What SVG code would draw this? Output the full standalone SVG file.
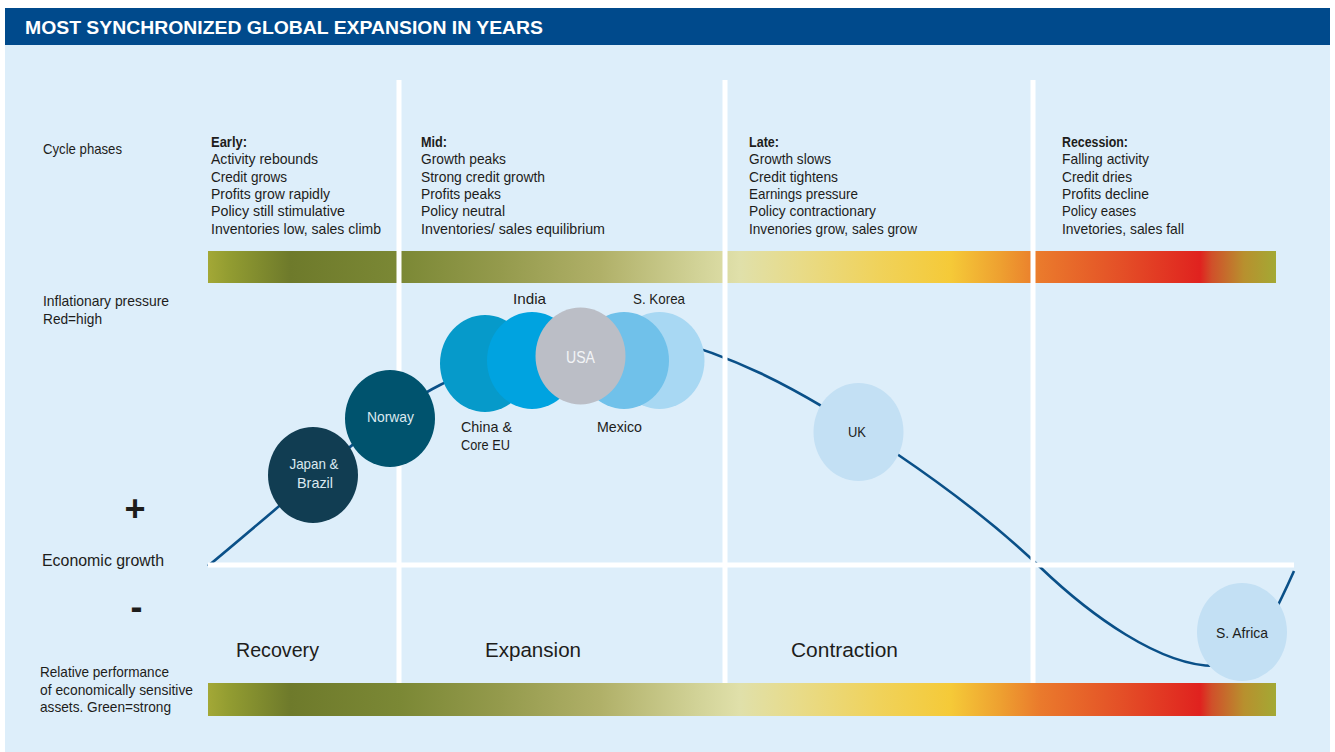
<svg xmlns="http://www.w3.org/2000/svg" width="1335" height="752" viewBox="0 0 1335 752">
  <style>
    .t { font-family: "Liberation Sans", Arial, sans-serif; fill: #1d1d1b; }
    .s { font-size: 14.5px; }
    .b { font-weight: bold; }
    .big { font-size: 20.5px; }
    .eg { font-size: 16px; }
    .lab { font-size: 15px; text-anchor: middle; }
    .lt { fill: #dbe9f0; }
    .usa { fill: #f2f4f6; font-size: 16px; }
    .title { font-family: "Liberation Sans", Arial, sans-serif; font-weight: bold; font-size: 18.5px; fill: #ffffff; }
    .grid { fill: #ffffff; }
    .curve { fill: none; stroke: #0a5088; stroke-width: 2.6; }
  </style>
  <defs>
    <linearGradient id="cycleGrad" gradientUnits="userSpaceOnUse" x1="208" y1="0" x2="1276" y2="0">
      <stop offset="0" stop-color="#a3a836"/>
      <stop offset="0.02" stop-color="#929c31"/>
      <stop offset="0.077" stop-color="#6e7a2b"/>
      <stop offset="0.18" stop-color="#7b8835"/>
      <stop offset="0.273" stop-color="#949a4c"/>
      <stop offset="0.367" stop-color="#b0b068"/>
      <stop offset="0.46" stop-color="#d2d398"/>
      <stop offset="0.498" stop-color="#e0e0aa"/>
      <stop offset="0.554" stop-color="#e8db88"/>
      <stop offset="0.629" stop-color="#f0d25a"/>
      <stop offset="0.695" stop-color="#f5ca38"/>
      <stop offset="0.742" stop-color="#eea030"/>
      <stop offset="0.779" stop-color="#ea7a2c"/>
      <stop offset="0.854" stop-color="#e45027"/>
      <stop offset="0.929" stop-color="#e0221f"/>
      <stop offset="0.94" stop-color="#d0502a"/>
      <stop offset="0.97" stop-color="#b8902e"/>
      <stop offset="1" stop-color="#a3a934"/>
    </linearGradient>
  </defs>

  <!-- background -->
  <rect x="0" y="0" width="1335" height="752" fill="#ffffff"/>
  <rect x="5" y="45" width="1325" height="707" fill="#ddeefa"/>

  <!-- header -->
  <g id="header">
    <rect x="5" y="8" width="1325" height="37" fill="#004a8c"/>
    <text class="title" x="25" y="33.5" textLength="518" lengthAdjust="spacingAndGlyphs">MOST SYNCHRONIZED GLOBAL EXPANSION IN YEARS</text>
  </g>

  <!-- gradient bars: inflation (top) and asset performance (bottom) -->
  <rect id="inflation-bar" x="208" y="251" width="1068" height="32" fill="url(#cycleGrad)"/>
  <rect id="performance-bar" x="208" y="683" width="1068" height="33" fill="url(#cycleGrad)"/>

  <!-- business cycle curve -->
  <g id="connectors">
    <path class="curve" d="M208,566 C300,490 380,415 440,385 C490,360 540,328 585,328 C640,328 700,345 760,373 C830,406 960,490 1040,567 C1090,615 1160,666 1215,666 C1250,666 1270,625 1294,571"/>
  </g>

  <!-- white grid: phase dividers and zero-growth axis -->
  <g id="grid">
    <rect class="grid" x="396.5" y="80" width="5" height="603"/>
    <rect class="grid" x="722.5" y="80" width="5" height="603"/>
    <rect class="grid" x="1030.5" y="80" width="5" height="603"/>
    <rect class="grid" x="208" y="562.5" width="1086" height="5"/>
  </g>

  <!-- left-hand row labels -->
  <g id="row-labels">
    <text class="t s" x="43" y="154" textLength="79" lengthAdjust="spacingAndGlyphs">Cycle phases</text>
    <text class="t s" x="43" y="306" textLength="126" lengthAdjust="spacingAndGlyphs">Inflationary pressure</text>
    <text class="t s" x="43" y="324" textLength="59" lengthAdjust="spacingAndGlyphs">Red=high</text>
    <text class="t b" x="135" y="521" font-size="36" text-anchor="middle">+</text>
    <text class="t eg" x="42" y="566" textLength="122" lengthAdjust="spacingAndGlyphs">Economic growth</text>
    <text class="t b" x="136.5" y="619" font-size="36" text-anchor="middle">-</text>
    <text class="t s" x="40" y="677" textLength="129" lengthAdjust="spacingAndGlyphs">Relative performance</text>
    <text class="t s" x="40" y="694.5" textLength="153" lengthAdjust="spacingAndGlyphs">of economically sensitive</text>
    <text class="t s" x="40" y="712" textLength="131" lengthAdjust="spacingAndGlyphs">assets. Green=strong</text>
  </g>

  <!-- phase descriptions -->
  <g id="phase-early">
    <text class="t s b" x="211" y="147" textLength="36" lengthAdjust="spacingAndGlyphs">Early:</text>
    <text class="t s" x="211" y="164" textLength="107" lengthAdjust="spacingAndGlyphs">Activity rebounds</text>
    <text class="t s" x="211" y="181.5" textLength="76" lengthAdjust="spacingAndGlyphs">Credit grows</text>
    <text class="t s" x="211" y="199" textLength="119" lengthAdjust="spacingAndGlyphs">Profits grow rapidly</text>
    <text class="t s" x="211" y="216" textLength="134" lengthAdjust="spacingAndGlyphs">Policy still stimulative</text>
    <text class="t s" x="211" y="233.5" textLength="170" lengthAdjust="spacingAndGlyphs">Inventories low, sales climb</text>
  </g>
  <g id="phase-mid">
    <text class="t s b" x="421" y="147" textLength="26" lengthAdjust="spacingAndGlyphs">Mid:</text>
    <text class="t s" x="421" y="164" textLength="85" lengthAdjust="spacingAndGlyphs">Growth peaks</text>
    <text class="t s" x="421" y="181.5" textLength="124" lengthAdjust="spacingAndGlyphs">Strong credit growth</text>
    <text class="t s" x="421" y="199" textLength="80" lengthAdjust="spacingAndGlyphs">Profits peaks</text>
    <text class="t s" x="421" y="216" textLength="84" lengthAdjust="spacingAndGlyphs">Policy neutral</text>
    <text class="t s" x="421" y="233.5" textLength="184" lengthAdjust="spacingAndGlyphs">Inventories/ sales equilibrium</text>
  </g>
  <g id="phase-late">
    <text class="t s b" x="749" y="147" textLength="30" lengthAdjust="spacingAndGlyphs">Late:</text>
    <text class="t s" x="749" y="164" textLength="82" lengthAdjust="spacingAndGlyphs">Growth slows</text>
    <text class="t s" x="749" y="181.5" textLength="89" lengthAdjust="spacingAndGlyphs">Credit tightens</text>
    <text class="t s" x="749" y="199" textLength="109" lengthAdjust="spacingAndGlyphs">Earnings pressure</text>
    <text class="t s" x="749" y="216" textLength="127" lengthAdjust="spacingAndGlyphs">Policy contractionary</text>
    <text class="t s" x="749" y="233.5" textLength="168" lengthAdjust="spacingAndGlyphs">Invenories grow, sales grow</text>
  </g>
  <g id="phase-recession">
    <text class="t s b" x="1062" y="147" textLength="66" lengthAdjust="spacingAndGlyphs">Recession:</text>
    <text class="t s" x="1062" y="164" textLength="87" lengthAdjust="spacingAndGlyphs">Falling activity</text>
    <text class="t s" x="1062" y="181.5" textLength="70" lengthAdjust="spacingAndGlyphs">Credit dries</text>
    <text class="t s" x="1062" y="199" textLength="87" lengthAdjust="spacingAndGlyphs">Profits decline</text>
    <text class="t s" x="1062" y="216" textLength="74" lengthAdjust="spacingAndGlyphs">Policy eases</text>
    <text class="t s" x="1062" y="233.5" textLength="122" lengthAdjust="spacingAndGlyphs">Invetories, sales fall</text>
  </g>

  <!-- phase names -->
  <g id="phase-names">
    <text class="t big" x="236" y="657" textLength="83" lengthAdjust="spacingAndGlyphs">Recovery</text>
    <text class="t big" x="485" y="657" textLength="96" lengthAdjust="spacingAndGlyphs">Expansion</text>
    <text class="t big" x="791" y="657" textLength="107" lengthAdjust="spacingAndGlyphs">Contraction</text>
  </g>

  <!-- country nodes -->
  <g id="japan-brazil">
    <ellipse cx="313" cy="475" rx="45" ry="48" fill="#113d52"/>
    <text class="t lab lt" x="314" y="469" textLength="49" lengthAdjust="spacingAndGlyphs">Japan &amp;</text>
    <text class="t lab lt" x="315" y="487.5" textLength="36" lengthAdjust="spacingAndGlyphs">Brazil</text>
  </g>
  <g id="norway">
    <ellipse cx="390" cy="418.5" rx="45" ry="48.5" fill="#00536e"/>
    <text class="t lab lt" x="390.5" y="422" textLength="47" lengthAdjust="spacingAndGlyphs">Norway</text>
  </g>
  <g id="china-core-eu">
    <ellipse cx="485" cy="363.5" rx="45" ry="48.5" fill="#069aca"/>
    <text class="t lab" x="486.5" y="432" textLength="51" lengthAdjust="spacingAndGlyphs">China &amp;</text>
    <text class="t lab" x="485.5" y="450" textLength="49" lengthAdjust="spacingAndGlyphs">Core EU</text>
  </g>
  <g id="india">
    <ellipse cx="532" cy="360.5" rx="45" ry="48.5" fill="#00a3e0"/>
    <text class="t lab" x="529.5" y="304" textLength="33" lengthAdjust="spacingAndGlyphs">India</text>
  </g>
  <g id="s-korea">
    <ellipse cx="659.5" cy="360.5" rx="45" ry="48.5" fill="#a8d8f3"/>
    <text class="t lab" x="659" y="304" textLength="52" lengthAdjust="spacingAndGlyphs">S. Korea</text>
  </g>
  <g id="mexico">
    <ellipse cx="624" cy="360.5" rx="45" ry="48.5" fill="#70c1ea"/>
    <text class="t lab" x="619.5" y="432" textLength="45" lengthAdjust="spacingAndGlyphs">Mexico</text>
  </g>
  <g id="usa">
    <ellipse cx="580.5" cy="356" rx="45" ry="48.5" fill="#bbbec6"/>
    <text class="t lab usa" x="580.5" y="363" textLength="29" lengthAdjust="spacingAndGlyphs">USA</text>
  </g>
  <g id="uk">
    <ellipse cx="858.5" cy="432" rx="45" ry="49" fill="#c3e0f4"/>
    <text class="t lab" x="857" y="437" textLength="18" lengthAdjust="spacingAndGlyphs">UK</text>
  </g>
  <g id="s-africa">
    <ellipse cx="1242" cy="632" rx="45" ry="49" fill="#c3e0f4"/>
    <text class="t lab" x="1242" y="638" textLength="52" lengthAdjust="spacingAndGlyphs">S. Africa</text>
  </g>
</svg>
